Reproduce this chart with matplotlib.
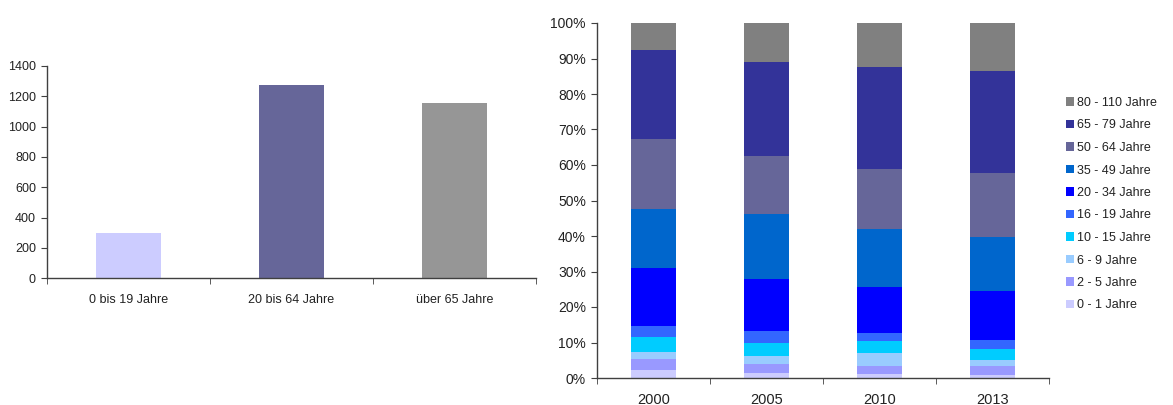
import matplotlib
matplotlib.use("Agg")
import matplotlib.pyplot as plt
from matplotlib.patches import Patch
from matplotlib.ticker import FuncFormatter, MultipleLocator
import numpy as np

plt.rcParams["font.family"] = ["Liberation Sans", "DejaVu Sans"]

# Left chart: population by broad age group
groups = ["0 bis 19 Jahre", "20 bis 64 Jahre", "über 65 Jahre"]
group_values = [297, 1275, 1158]
group_colors = ["#CCCCFF", "#666699", "#969696"]

# Right chart: age structure share (%) per year, stacked bottom to top
years = ["2000", "2005", "2010", "2013"]
age_classes = ["0 - 1 Jahre", "2 - 5 Jahre", "6 - 9 Jahre", "10 - 15 Jahre",
               "16 - 19 Jahre", "20 - 34 Jahre", "35 - 49 Jahre",
               "50 - 64 Jahre", "65 - 79 Jahre", "80 - 110 Jahre"]
share_2000 = [2.2, 3.1, 2.1, 4.2, 3.1, 16.2, 16.8, 19.7, 25.1, 7.5]
share_2005 = [1.3, 2.7, 2.2, 3.7, 3.4, 14.5, 18.5, 16.1, 26.6, 11.0]
share_2010 = [1.2, 2.2, 3.6, 3.5, 2.2, 13.0, 16.4, 16.9, 28.5, 12.5]
share_2013 = [0.9, 2.5, 1.8, 2.9, 2.7, 13.8, 15.2, 17.9, 28.9, 13.4]
class_colors = ["#CCCCFF", "#9999FF", "#99CCFF", "#00CCFF", "#3366FF",
                "#0000FF", "#0066CC", "#666699", "#333399", "#808080"]

W, H = 1173, 405
fig = plt.figure(figsize=(W / 100, H / 100), dpi=100)
fig.patch.set_facecolor("white")

text_color = "#222222"
axis_color = "#404040"

# ---- left chart ----
ax1 = fig.add_axes([47 / W, 1 - 278.3 / H, (536 - 47) / W, (278.3 - 66) / H])
x1 = np.arange(len(groups))
ax1.bar(x1, group_values, width=0.4, color=group_colors)
ax1.set_xlim(-0.5, len(groups) - 0.5)
ax1.set_ylim(0, 1400)
ax1.yaxis.set_major_locator(MultipleLocator(200))
ax1.set_xticks(x1)
ax1.set_xticklabels(groups)
ax1.set_xticks(np.arange(len(groups) + 1) - 0.5, minor=True)
ax1.tick_params(axis="x", which="major", length=0, pad=11,
                labelsize=9, labelcolor=text_color)
ax1.tick_params(axis="x", which="minor", length=4, color=axis_color, direction="out")
ax1.tick_params(axis="y", length=4, color=axis_color, direction="out",
                labelsize=9, labelcolor=text_color, pad=4)
for s in ["top", "right"]:
    ax1.spines[s].set_visible(False)
for s in ["left", "bottom"]:
    ax1.spines[s].set_color(axis_color)
    ax1.spines[s].set_linewidth(1.0)

# ---- right chart ----
ax2 = fig.add_axes([597 / W, 1 - 378 / H, (1049 - 597) / W, (378 - 23) / H])
shares = np.array([share_2000, share_2005, share_2010, share_2013])
x2 = np.arange(len(years))
bottom = np.zeros(len(years))
for i, (label, color) in enumerate(zip(age_classes, class_colors)):
    ax2.bar(x2, shares[:, i], width=0.39, bottom=bottom, color=color, label=label)
    bottom += shares[:, i]
ax2.set_xlim(-0.5, len(years) - 0.5)
ax2.set_ylim(0, 100)
ax2.yaxis.set_major_locator(MultipleLocator(10))
ax2.yaxis.set_major_formatter(FuncFormatter(lambda v, p: f"{v:.0f}%"))
ax2.set_xticks(x2)
ax2.set_xticklabels(years)
ax2.set_xticks(np.arange(len(years) + 1) - 0.5, minor=True)
ax2.tick_params(axis="x", which="major", length=0, pad=11,
                labelsize=10.5, labelcolor=text_color)
ax2.tick_params(axis="x", which="minor", length=4, color=axis_color, direction="out")
ax2.tick_params(axis="y", length=4, color=axis_color, direction="out",
                labelsize=10, labelcolor=text_color, pad=4)
for s in ["top", "right"]:
    ax2.spines[s].set_visible(False)
for s in ["left", "bottom"]:
    ax2.spines[s].set_color(axis_color)
    ax2.spines[s].set_linewidth(1.0)

handles = [Patch(facecolor=c, edgecolor="none", label=l)
           for l, c in zip(age_classes, class_colors)][::-1]
fig.legend(handles=handles, loc="upper left",
           bbox_to_anchor=(1061 / W, 1 - 92 / H), frameon=False,
           fontsize=9, handlelength=0.65, handleheight=0.65,
           handletextpad=0.25, labelspacing=0.84, borderaxespad=0,
           labelcolor=text_color)

fig.savefig("out.png", dpi=100, facecolor="white")
